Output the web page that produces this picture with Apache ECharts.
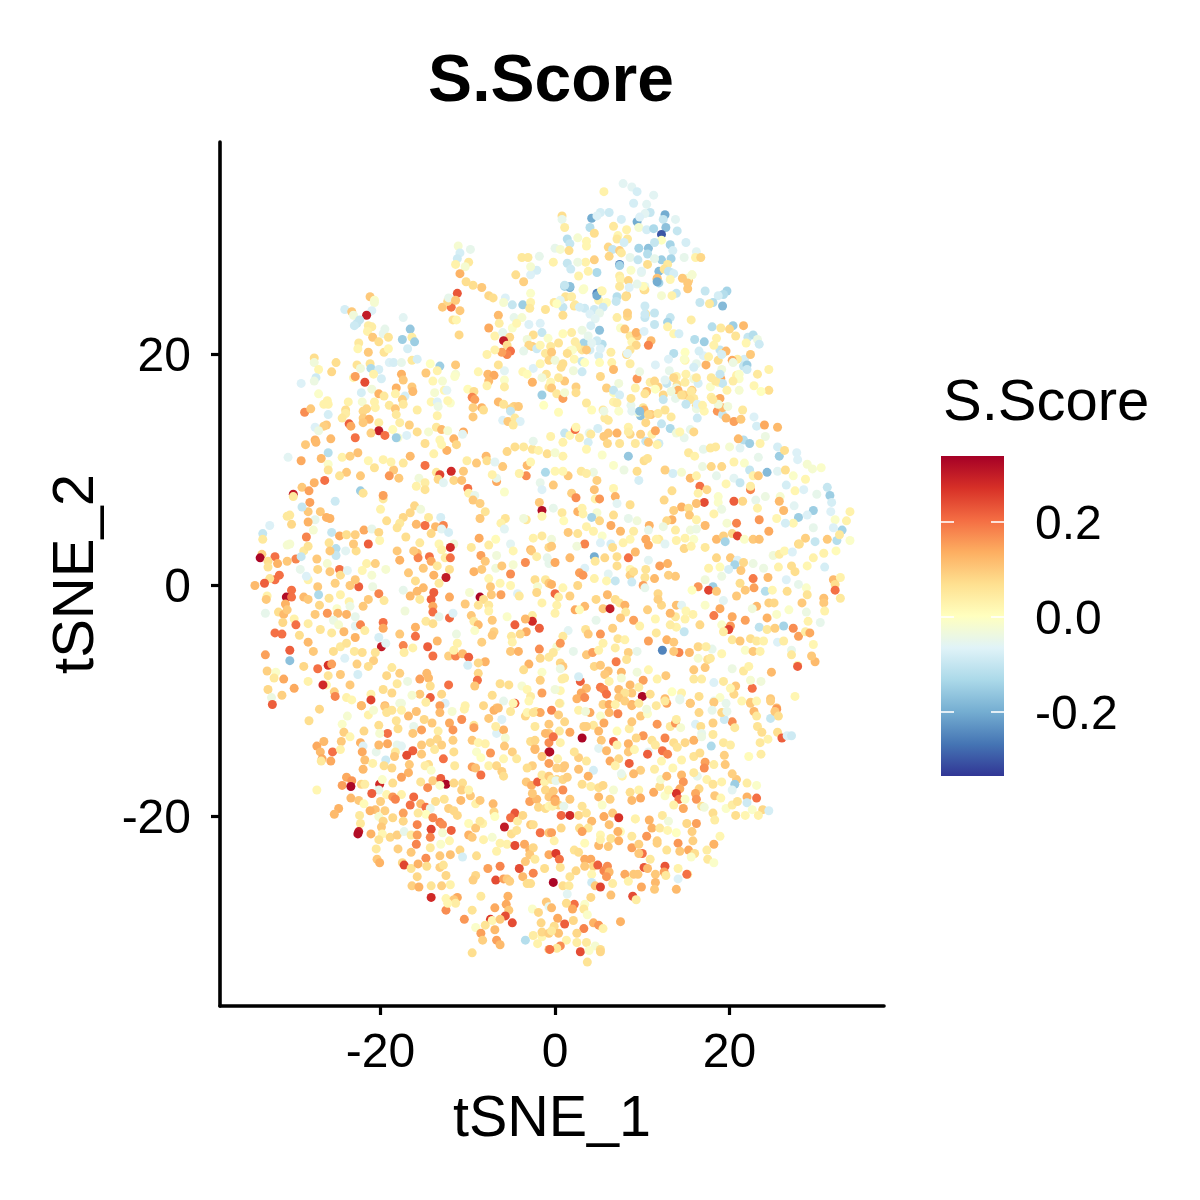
<!DOCTYPE html>
<html><head><meta charset="utf-8">
<style>html,body{margin:0;padding:0;background:#fff}#c{width:1200px;height:1200px}</style>
<script src="https://cdn.jsdelivr.net/npm/echarts@6/dist/echarts.min.js"></script>
</head><body><div id="c"></div>
<script>
// each cell: [tSNE_1, tSNE_2, S.Score]
const cellsUpperLeft = [
[-11.1,29.4,-.02],[-9.7,29.1,-.05],[-10.9,28.8,-.08],[-11.2,28.3,-.09],[-9.9,28,.05],[-11.4,27.8,.03],[-10.3,27.6,-.02],[-10.9,27,.13],[-10.2,26.3,.07],[-9.4,26,.07],[-8.4,25.8,.1],[-7.6,25.1,.08],[-7.1,24.9,.07],[-11.2,25.3,.23],[-11.9,24.1,.2],[-12.9,24.1,.1],[-12.3,24.6,.08],[-12.2,24.9,-.05],[-11.4,24.7,.1],[-10.9,23.8,.1],[-11.7,23,.06],[-11.3,23,.02],[-11,21.7,.08],
[-3.8,28.4,.05],[-3.1,28.4,.05],[-1.8,28.5,-.05],[-2.1,27.3,-.08],[-2.8,26.9,-.07],[-2.8,27.6,-.02],[-4.5,26.9,.07],[-3.6,26.3,.09],
[-21.2,25,.1],[-20.7,24.7,-.01],[-20.7,24.5,-.02],[-24.1,23.9,-.08],[-23.3,23.7,.1],[-23.1,23.4,-.03],[-21,23.8,-.07],[-21.6,23.4,.3],[-22.4,23,-.1],[-22.7,22.7,-.1],[-23,22.5,-.09],[-21.4,22.5,.04],[-21,22.4,.04],[-21.5,22,.03],[-17.4,23.2,-.06],[-16.6,22.2,-.16],[-19.5,22.2,-.05],[-19.7,21.8,-.05],[-19.1,21.5,.06],[-20.9,21.5,.1],[-17.5,21.3,-.15],[-16.4,21.5,.04],[-16.1,21.1,-.15],[-20.2,21.1,.07],[-22.5,21,.05],[-16.9,20.5,-.08],[-22.6,20.5,.02],[-21.4,20.2,.1],[-19.6,20.2,.06],[-19.1,20.5,.02],[-27.6,19.7,.07],[-25.1,19.3,.07],[-27.6,19.3,-.03],[-27.1,18.7,.02],[-25.6,18.5,.08],[-27.4,18,-.09],[-27.6,17.7,-.04],[-29.1,17.5,-.07],[-27.1,16.6,-.01],
[-22.7,19.1,.06],[-21.2,19.2,.06],[-22.3,18.8,-.03],[-21.1,18.8,-.13],[-20.2,18.7,-.08],[-19,19.3,-.07],[-18.5,19.3,-.08],[-17.6,19.3,-.05],[-16.4,19.5,.05],[-15.8,19.6,-.08],[-14.3,19.2,0],[-13.2,19,-.15],[-11.4,19.1,.1],[-14.8,18.4,.1],[-13.5,18.6,.03],[-11.4,18.3,-.02],[-8.8,18.5,.02],[-7.7,18.3,.12],[-7,18.2,.14],[-7.6,17.7,.12],[-5.8,18.6,-.06],[-3.7,18.5,.02],[-2.5,18.8,-.07],[-1,18.3,.06],[-1.7,19.2,.02],[-23.1,18,.02],[-22.9,18.1,.15],[-21.8,17.6,.24],[-19.9,17.9,-.08],[-20.8,18.3,.03],[-17.6,18.3,.13],[-17.4,17.8,.1],[-14,17.7,.02],[-12.9,17.7,-.02],[-11.5,18.1,-.01],[-5.8,17.8,-.01],[-5.8,17.2,.04],[-7.8,17.3,.03],[-2.6,17.6,.13],[-3.2,18.3,.01],[-1.5,18,-.03],
[-22.2,16.7,-.08],[-21,17,-.03],[-20.2,16.6,.13],[-19.6,16.4,.05],[-18.2,17.1,.13],[-18.3,16.6,.03],[-16.4,17.2,.1],[-16.3,16.8,.12],[-17.2,16.4,-.08],[-17.5,16.1,.09],[-13.8,16.7,-.02],[-12.7,16.9,.02],[-12.4,16.9,-.06],[-14.2,15.9,.02],[-13.5,15.9,-.07],[-12,15.8,-.01],[-12.3,16,.02],[-13.4,15.5,-.04],[-10,17,.01],[-9.3,16.8,.07],[-9.5,16.3,.18],[-9.2,16.1,.15],[-6.5,15.9,.12],[-5.9,15.7,.06],[-4.7,15.5,.09],[-4.2,15.5,.1],[-1.5,16.5,-.15],[-1.3,15.6,0],[-.7,17.2,.06],
[-28.7,15,.17],[-28,15.3,.1],[-26.1,16,.03],[-26.5,15.7,.03],[-26,15.7,.03],[-23.7,15.9,.03],[-22.1,15.9,-.02],[-20.7,15.9,.03],[-19,15.6,.05],[-17.4,15.7,.05],[-18.3,15.3,.1],[-20.6,15.4,.03],[-21.6,15.3,.08],[-24,15.2,.07],[-24,14.9,.04],[-26,14.8,-.08],[-24.4,14.5,.05],[-22,15.1,.08],[-18.2,14.8,.05],[-15.8,15.2,.04],[-13.5,14.7,.03],[-9.4,15.4,.09],[-8.4,15.4,.13],[-8.2,15.2,.07],[-9.4,14.6,.1],[-5.1,15.3,.08],[-5.1,15.1,-.1],[-6,14.3,-.07],[-5.4,14.2,.1],[-4.6,14.5,.05],[-4,14.2,-.07],[-4.8,13.9,.05],
[-22,14.5,.09],[-21.3,14.4,.13],[-22,14.1,.1],[-23.6,14,.22],[-23.4,13.8,.14],[-27.5,13.7,-.07],[-26.2,13.9,.1],[-26.5,13.8,.09],[-27.1,13.4,-.04],[-20.2,14.1,.04],[-17.8,14.1,.04],[-18.6,13.5,.01],[-16.7,13.9,.09],[-15.8,13.3,.07],[-13.6,13.7,.05],[-13,13.5,.12],[-12.3,13.4,-.02],[-14.5,13.3,-.02],[-10.5,13.3,.14],[-10.6,13.1,-.06],[-20.2,13.4,.3],[-19.5,13,.2],[-21.1,13.2,.09],[-18,12.8,-.02],[-18.2,12.8,-.15],[-17,13,-.07],[-27.5,12.6,.13],[-25.7,12.7,.12],[-22.9,12.8,.2],[-11.6,12.7,.13],[-13.2,12.6,.02]];
const cellsUpperGap = [
[-5.7,24.9,-.07],[-5.9,24.5,-.02],[-4.9,24.3,-.1],[-3.7,24.3,-.15],[-2.8,24.5,.03],[-2.9,24,.05],[-1.1,23.9,.06],[-6.5,23.4,.12],[-6.4,22.7,.04],[-7.6,22.3,.14],[-4.7,23.2,-.05],[-3.8,23.2,-.02],[-4.9,22.3,-.01],[-4.4,22.7,.02],[-3,22.6,-.07],[-1.7,22.7,-.07],[-1.5,21.9,-.1],[-2.5,21.7,.07],[-6.9,21.6,.03],[-6,21.9,-.05],[-5.2,21.5,.08],[-5.9,21.2,.3],[-5.5,20.8,.07],[-5.1,20.3,.2],[-5.5,20,.18],[-6.1,20.2,.15],[-3.2,21.3,-.03],[-2.6,20.7,.09],[-3,20.8,.08],[-2.1,20.5,-.09],[-3.6,20.3,-.05],[-1.1,20.1,.05],[-.8,21.4,-.01],[-7.8,20,.03],[-6.5,19.1,.06],[-6.9,20.4,.03],[-.7,19.5,.08],[-1.7,20.8,.02],[-2.8,25.3,-.01]];
const cellsUpperRight = [
[7.8,34.8,-.06],[8.8,34.5,-.06],[9.4,34.1,-.08],[11.3,33.8,-.06],[5.6,34.1,.03],[9,33.1,-.08],[10.5,33,-.06],[.8,32,.07],[.8,31.7,-.05],[4.2,31.8,-.2],[5.2,32.3,-.08],[6.2,32.3,-.09],[4.8,32,-.07],[7.6,31.7,-.08],[9.4,31.5,-.2],[10.9,32.3,-.1],[10.3,32.2,-.06],[9.7,31.9,-.07],[12.6,32.1,-.2],[12.4,31.7,-.1],[13.8,31.7,-.06],[4,31,-.12],[1.1,31,.04],[6.7,31.1,.05],[4.5,30.5,.07],[9.6,31,-.02],[10.5,30.8,-.08],[11.3,30.9,-.13],[12.7,31,-.17],[14,30.7,-.1],[12.2,30.4,-.3],[12.2,29.9,0],[8.2,30.8,.03],[7.2,30.3,.02],[8.3,30,.05],[7.1,30,.05],[6.1,29.3,.08],[3.6,29.8,.02],[1.4,30,-.12],[1.7,29.6,-.1],[2.6,30.1,-.02],[3.6,29.4,.02],[0,29.2,-.05],[.6,29.1,-.02],[1.6,29,.07],[6.6,29.1,-.1],[7.4,29,.09],[7.9,29.7,-.08],[9.6,29.2,-.14],[10.7,29.2,-.17],[11.4,29.7,-.1],[13.2,29.5,-.14],[13.5,29,-.08],[15,29.7,-.08],[16.2,28.9,-.06],[14.8,28.4,-.05],[16.1,28.4,.03],[16.7,28.4,.08],
[6.2,28.5,.08],[7.6,28.8,.05],[8.6,28.4,-.05],[10.6,28.7,-.12],[9.5,28.2,-.1],[12.2,28.2,-.15],[13.3,28.3,-.14],[11.4,28.3,-.05],[12.9,27.8,.05],[10.6,27.8,.07],[4.5,28.2,.09],[3.5,28,.03],[1.4,27.9,-.1],[1.8,27.4,-.09],[-.2,28,.03],[2.6,28,-.04],[7.4,27.8,-.25],[7.4,27.7,-.14],[8.7,27.3,-.01],[4.8,27.1,-.13],[3.8,27.2,.03],[2.7,26.8,.03],[7.4,26.8,.04],[9.9,27.1,-.05],[11.9,27.2,-.18],[13.3,27.1,-.08],[15.7,26.9,-.02],[11.7,26.5,.13],[11.9,26.2,-.14],[15.3,26.4,.1],[15.2,26.6,-.02],[15.2,25.7,.1],[7.5,26.5,.03],[8.4,26.4,.08],[7.4,25.9,.05],
[1.1,25.9,-.14],[1.7,25.8,-.2],[3.2,25.6,-.01],[4.8,25.3,-.25],[5.3,25.5,.03],[7.1,25,-.12],[8.2,25.1,.08],[10.3,25.9,-.05],[10.2,25.6,.08],[12.2,25.1,-.02],[13.9,25.3,-.1],[13.4,25.1,.03],[17.2,25.5,-.1],[19.7,25.5,-.14],[19.3,25.2,-.12],[18.7,25.1,-.08],[18.1,24.5,-.12],[16.6,24.5,-.1],[19.2,24.2,-.18],[17.7,24.4,.05],[5,24.7,.03],[2.2,24.2,.06],[3.4,24,-.09],[.9,24.1,-.1],[-.1,24.5,.05],[4.5,23.9,-.09],[4,23.5,-.07],[7.1,23.2,.04],[8.3,23.3,.08],[10.4,23.5,.06],[10.3,23.2,-.1],[13.2,23.2,-.1],[12.9,22.8,-.14],[11.4,22.6,-.1],[12.9,22.4,.03],[15.6,23,.04],[18,22.4,-.12],[19,22.3,.05],[20.4,22.5,-.15],[21.6,22.5,.12],[22.1,21.5,-.1],[20,22.2,.08],
[8.6,21.6,.05],[9.4,21.6,.1],[13.6,21.8,.02],[14.2,21.8,-.08],[16,21.3,-.12],[17.1,21.1,-.15],[18.5,21.4,.03],[22.7,21.7,-.12],[23.2,21.3,-.04],[23.4,20.9,-.09],[21.9,21,.02],[20.7,21.6,.06],[18.9,20.4,-.1],[18.2,20.8,.03],[11,21.2,.12],[10.7,20.8,.18],[3.3,21,-.14],[5.4,20.9,-.12],[4,20.4,-.08],[5,19.9,-.08],[-.5,20.7,.05],[1.7,20.3,.02],[2.2,19.6,.02],[3.1,20.4,.06],[6.5,19.3,.03],[8.2,20,.07],[8.6,19.2,.04],[13.6,20.1,-.12],[13,19.6,-.07],[14.9,19.5,.02],[16.2,19.2,-.05],[17,19.9,-.07],[21.7,19.6,-.08],[22.4,20,.1],[19.2,20.1,.03],[20.9,19.6,.04],[21.6,19,-.1],[20.3,19.5,.14],
[13.1,18.6,-.05],[13.9,18.1,.03],[15,18.3,.03],[15.9,17.9,-.03],[19,17.9,.14],[18.7,17.6,.03],[17.9,18,.05],[20.8,18.2,.03],[19.2,17.5,-.1],[21.1,17.9,-.01],[24.5,16.9,.07],[22.8,17.3,.02],[23.6,16.8,.0],[1.1,17.7,.1],[-.5,17.6,.02],[5.2,18.1,.08],[6.7,16.7,.01],[10.5,16.8,.12],[12.8,17.5,-.1],[11.8,17.2,.09],[10.9,17.6,.04],[14,17.4,.07],[13.9,17.1,-.04],[12.4,16.5,.08],[14.1,16.9,.13],[15.7,16.9,.09],[14.8,16.5,.09],[15.6,16.8,.05],[15.9,16.2,.05],[16.2,15.6,.07],[16.7,15.6,-.02],[18.9,16.2,.14],[18.6,15.1,.16],[19.2,14.8,-.1],[21.5,15.2,.05],[16.2,15.3,-.04],[17.1,15.1,.02],[13.3,14.6,.05],[11,14.8,.1],[10.1,15.4,.06],[10.2,15.2,.13],[12.6,15.2,.06],[8.7,15.6,-.05],[9.8,14.7,-.17],[11.8,14.9,.05],[12.2,14,-.1],[13.2,13.6,-.13],[13.9,13.2,-.03],[10.4,14.1,.08],[8.4,13.7,.03],[6.1,14.3,.05],[9.5,15,-.03],[15.5,13.5,-.05],[16.3,14.5,-.09],[19.6,14.5,.12],[20.5,14.2,.15],[21.3,14.4,.1],[22.8,14.6,-.07],[23.1,13.8,-.08],[24,13.9,.14],[25.5,13.7,.12],
[24.1,12.9,-.04],[21.6,12.6,-.12],[21,12.7,.12],[8.6,13.1,.08],[5.6,12.9,.1],[6,12.3,.08],[7.4,12.3,.06],[10.4,12.5,-.1],[11.1,13.1,.03],[11.9,12.3,-.09],[14.8,12.8,-.05],[14.3,13.3,.02],[15.9,13.3,.08],[1.1,13.2,-.1],[1.7,13,.02],[2.8,12.8,.05],[3.9,13.2,-.05],[4.9,13.6,-.08],[-.5,12.9,.03]];
const cellsUpperCentre = [
[1.7,25.9,-.17],[1.1,26,-.1],[3.3,25.7,-.01],[4.8,25.1,-.2],[5.4,25.5,.02],[1.2,25,.06],[1.9,25,.04],[.6,24.7,-.06],[.2,24.4,0],[2.3,24.3,.05],[2.8,24.1,-.08],[7,24.6,-.1],[5.9,24.5,.01],[8.1,25,.07],[10.3,25.6,.07],[10.1,25.9,.01],[9.4,26.1,-.05],[8.5,25.8,-.07],[5.5,24.1,-.09],[5.1,23.6,-.05],[4.6,23.1,-.06],[4.1,22.5,-.08],[.9,23.4,.07],[8.3,23.6,.09],[10.3,24.2,-.09],[10.3,23.5,-.09],[11.4,23.6,-.1],[5.1,22.1,-.17],[3.1,22.1,-.04],[1.9,21.9,.04],[.9,21.8,.01],[7.5,22.3,-.01],[8,22.2,.1],[9.3,21.9,.13],[10.2,22,-.07],[3.8,21.6,-.05],[4.8,21.2,-.09],[.4,21,.06],[2.3,21.1,.04],[2.5,20.7,.04],[4.2,21,-.06],[3.6,20.4,.1],[2,20.4,-.01],[1.4,20.1,.07],[5.2,20.5,-.07],[6.4,20.2,.04],[8.8,21.1,.02],[9.3,20.8,.08],[8.6,20.4,.06],[8.3,20.1,-.06],[-.4,20.2,.1],[0,19.5,-.03],[.9,19.2,.07],[.7,18.9,.07],[3.1,19.4,-.1],[3.4,19.3,0],[5.1,19.3,.01],[2.1,18.6,-.03],[3.1,18.5,-.09],[6.7,18.7,.12],[.4,18,.05],[-.4,17.1,.1],[2.4,17.2,.09],[2.4,16.7,.07],[5.9,17.1,.09],[7.3,17.5,-.03],[.2,16.6,.05],[.9,16.2,.15],[1.1,16.7,-.02],[6.7,16.9,-.1],[7.4,16.5,-.08],[8.7,16.2,.06],[9.2,17.1,.03],[3.6,15.8,.05],[4.2,15.2,.01],[6.7,15.9,.03],[7.1,15.8,.04],[.4,15,.01],[5.5,15.2,.05],[5.7,14.5,.05],[5.6,15.1,-.04],[7.3,15.1,-.01],[8.8,15.1,-.06],[9.7,15.1,-.17],[10.7,14.8,.08],[2.3,13.5,.2],[2.4,13.7,.02],[4.1,13.1,.05],[6.1,13.2,.1],[7.1,13.2,.13],[8.4,13.3,.04],[9.8,13.1,.09],[11.5,13.4,.14],
[9.4,17.9,.16],[9.7,18.5,-.04],[11.4,17.7,.08],[11.5,19.1,-.07],[12.6,17.8,-.06],[13.6,18,.08],[14.9,17.6,.04],[10.3,16.6,.06],[11.5,17,0],[13.3,16.8,-.03],[12.4,16.1,-.1],[13.8,16.2,-.05],[14.5,16.5,.07],[15.5,16.1,.06],[15,15.7,-.1],[16.3,15.7,-.07],[16.9,15.6,.03],[19.2,15.4,.12],[18.7,15.7,-.03],[19.8,15.5,-.03],[17.9,16.3,.04],[18.1,16.1,.05],[16.4,17.5,-.08],[17.8,17.2,-.01],[16.2,18,.05],[18.4,17.7,.05],[19.1,18.7,-.03],[18.9,18.3,-.1],[17.3,19.1,.13],[15.9,18.9,-.08],[17.6,19.8,.03],[18.7,19.5,.07],[16.5,20.3,-.08],[14.9,20.2,0],[14.8,19.6,-.01],[22,19.1,-.15],[23.2,18.3,.05],[24.5,18.7,.03],[22,18.7,-.09],[20.4,19.3,-.04],[19.6,20.3,.12],[19.1,20,-.08],[20.4,17.7,.04],[19.7,16.9,.03],[21.1,16.9,-.02],[21.1,18.3,-.01],[11.7,26.6,.11],[11.7,26.3,-.2],[12.5,27.4,.06],[13,27.2,-.1],[13.6,27,-.08],[14.6,26.6,.1],[15.2,26.2,.1],[15.7,26.9,-.02],[13.2,26.5,.02],[9.9,27.2,-.06]];
const cellsMiddleLeft = [
[-30.6,11.1,-.06],[-29.1,10.8,.14],[-28.6,12.2,.1],[-27.4,12.4,.12],[-26,11.5,-.12],[-26.8,11,.12],[-26,10.5,-.01],[-26,10,.06],[-24.4,11.1,.03],[-23.5,11.2,.09],[-22.6,11.5,.11],[-21.4,10.8,.02],[-20.7,10.2,.06],[-22.3,9.5,.1],[-23.9,9.8,.1],[-24.7,9.5,.06],[-27.6,8.9,.13],[-26.4,9.1,.2],[-29,8.5,.1],[-28.2,8.2,.15],[-28.1,7.2,.15],[-30,7.9,.3],[-30,7.7,.05],[-28.3,6.4,.1],[-29,6.8,-.1],[-25.2,7.3,-.09],[-22.3,8.2,-.15],[-22,8,.06],[-19.7,7.5,.05],[-19.7,7.8,.15],[-20,6.6,.03],[-27.5,5.7,-.05],[-26.9,6.4,.1],[-26.2,5.9,.13],[-25.8,5.8,.13],[-30.4,6.1,.05],[-30.7,6,.05],[-30.2,5.3,.08],[-28.3,5.5,.13],[-32.7,5.2,-.07],[-33.5,4.5,-.1],[-33.5,4,.05],[-30.7,3.5,-.02],[-30.4,3.6,-.02],[-27.7,4.8,-.02],[-25.6,4.6,-.1],[-28.5,4.2,.18],[-24.7,4.3,.14],[-23.9,4.4,.07],[-22.9,4.4,.09],[-21.9,4.8,.14],[-21,4.9,-.05],[-20.2,4.6,.08],[-20.1,3.9,.02],[-21.4,3.6,.22],[-22.8,3,.07],[-23.1,3.6,.1],[-25.9,3.7,.06],[-25.1,3.2,-.12],[-25.1,2.6,-.1],[-24,3,-.06],[-28.8,3,.05],[-28.3,3.4,.06],[-25.8,3,.1],[-27.3,2.3,.1],[-33.6,2.7,.09],[-33.8,2.4,.33],[-32.1,2.5,.2],[-32.9,2.1,.07],[-31.8,1.9,.13],[-30.7,2.1,.1],[-29.7,2.3,.18],[-29.1,2.5,-.1],[-32.9,1.6,.06],[-29.2,1.4,-.05],[-27.2,1.4,.08],[-26.1,1.9,-.02],[-24.7,1.4,.2],[-25.8,1.2,.1],[-24.6,.9,.07],[-23.8,1.3,-.06],[-21.6,1.9,.03],[-20.6,1.9,.09],[-22.1,1.3,.02],[-19.4,1.4,-.02],[-21,.9,-.02],[-28.3,.5,.03],[-28.5,.8,-.07],[-31.6,.9,.2],[-32.1,.5,.2],[-32.7,.6,.06],[-34.4,0,.12],[-33.3,.2,.22],[-30.2,-.4,.2],[-27.2,-.1,.1],[-22.5,-.1,.22],[-20.9,-.1,-.04],[-23.5,0,.1],[-25.2,.2,.09],[-22.9,.5,.1],[-33,-.9,.03],[-33.1,-1.2,.1],[-30.8,-1,.32],[-27.1,-.8,-.13],[-28.8,-1,.12],[-28.3,-1.2,.1],[-30.2,-1,.2],[-24.6,-.8,.03],[-20.2,-.7,.18],[-23.6,-1.4,.03],[-25.9,-1.1,.06],[-19.6,-1.3,.05],[-21.4,-1.2,.1],[-22,-1.8,.1],[-30.9,-1.6,.13],[-27,-1.7,.08],[-25,-2,-.01],[-23.5,-1.8,-.04],[-33.2,-2.4,-.05],[-31.7,-2.3,.07],[-31.1,-2.5,.12],[-30.7,-2.1,.1],[-29.9,-2.9,.03],[-29.7,-3.4,.2],[-27.5,-2.5,.1],[-26.1,-2.4,.16],[-24.9,-2.4,.12],[-23.9,-2.5,.13],[-22.9,-2.7,-.05],[-25.4,-3,-.04],[-28.3,-3.3,.04],[-31.2,-3.2,.08],[-26.9,-3.8,.06],[-24.8,-3.4,-.02],[-22.9,-3.5,-.06],[-22.3,-3.4,.18],[-21.8,-3.9,.04],[-32.1,-4.1,.2],[-31.3,-4.2,.2],[-29.3,-4.3,.07],[-25.6,-4.1,.05],[-24.2,-4,.12],[-19.7,-3.2,.2],[-19.7,-3.7,.14],[-28.3,-4.9,.12],[-22.9,-4.5,.13],[-24.6,-5.3,.05],[-23.9,-5,.06],[-20.2,-4.5,-.08],[-19.9,-5.3,.3],[-19.4,-5,-.06],[-30.4,-5.6,.22],[-33.2,-6,.15],[-27.7,-5.7,.1],[-25.4,-5.7,.07],[-23,-5.7,.05],[-22.1,-5.8,.07],[-20.6,-5.8,.06],[-30.4,-6.5,-.17],[-24.1,-6.3,-.07],[-28.8,-7,.08],[-27.2,-7.2,.2],[-26,-6.9,.27],[-25.6,-6.8,.15],[-22.7,-6.8,.09],[-20.8,-6.5,.09],[-21.4,-7,.07],[-33,-7.4,.09],[-32,-7.5,-.01],[-31.1,-8.1,.14],[-28.3,-8.3,.03],[-32.2,-8,.05],[-24.6,-7.7,.1],[-26,-7.8,.06],[-22.6,-7.7,-.08],[-18.7,-7.1,.05],[-19.3,-7.8,.08],[-17.8,-7.6,.09],[-26.2,-8.6,.02],[-26.6,-8.6,.28],[-29.9,-8.9,.14],[-32.9,-9,.08],[-31.3,-9.5,.09],[-32.5,-9.7,-.04],[-32.4,-10.3,.22],[-23.5,-8.6,.1],[-25.3,-9.2,.09],[-25.2,-9.6,.18],[-23.9,-9.7,.03],[-23.3,-9.9,.02],[-21.1,-9.4,.03],[-21.1,-9.9,.25],[-19.7,-9,.07],[-18.1,-8.5,.05],[-16.9,-8.3,-.04],[-15.5,-8.1,.15],[-14.7,-7.6,.12],[-14.5,-8,.12],[-12.2,-8.6,.2],[-14.3,-8.7,.07],[-15.5,-9.4,.1],[-16.4,-9.5,-.02],[-14.3,-9.7,.22],[-13,-9.4,.08],[-12.6,-10.2,-.07],[-17.8,-10.2,-.03],[-18.7,-9.3,.08],[-22.2,-10.4,.13],[-19.5,-10.4,.13],[-27,-10.7,.08],
[-7.9,11.2,.12],[-5.5,11.6,.08],[-4.6,12,.07],[-3.6,12,.05],[-2.6,11.8,.06],[-1.9,11.7,.03],[-.9,11.4,.07],[-2.5,12.5,-.05],[-7.8,10.8,.07],[-6.9,10.7,-.06],[-6,10.3,.1],[-9,10.6,.1],[-10.1,10.8,.04],[-3.2,10.4,.12],[-2.8,10.7,.02],[-1.1,9.8,-.13],[-3.3,9.5,.17],[-4.1,9.7,.03],[-1.7,8.9,-.05],[-1.5,8.3,-.07],[-1.8,7.2,.1],[-1.5,6.5,.32],[-1.5,6,.02],[-3.3,5.7,.05],[-3.6,5.8,-.03],[-5.7,5.8,.06],[-6.2,5.4,.03],[-5.8,4.9,-.06],
[-16.6,11.2,.12],[-18.5,10,.1],[-19,9.5,.16],[-17.9,9.3,.1],[-17.4,10.6,.05],[-19.7,10.9,.03],[-18.8,10.7,.03],[-14.9,10.4,.2],[-13.9,11.4,.03],[-12.4,11.7,.13],[-14.9,12.3,.07],[-13,12.2,.02],[-11.3,12.2,.08],[-10.5,9.9,.1],[-11.9,9.9,.28],[-13.6,9.8,.05],[-13.2,9.6,.25],[-13.4,9.2,.08],[-12.8,8.9,-.06],[-11.6,9.1,.08],[-10.7,9.1,.11],[-15.6,9.3,-.03],[-15.9,8.6,.03],[-14.9,8.9,.04],[-14.9,8.3,.06],[-10,8.4,.2],[-9.9,8,.03],[-9.2,7.8,-.05],[-9.4,7.4,.1],[-8.6,7.1,.09],[-8,6.4,.06],[-8.6,5.8,.1],[-5.8,8.1,-.01],[-6.7,9,.14],[-6.7,9.3,-.05],[-7.2,9.6,.03],
[-16.1,6.9,.08],[-16.6,6.3,.08],[-17.4,5.9,.08],[-15.4,6.6,-.03],[-19.3,5.6,.07],[-17.8,5.4,.05],[-18.1,5,.06],[-17.1,4.2,.07],[-15.9,5.3,.12],[-14.9,5.2,.2],[-14.5,5.9,.05],[-13.1,5.9,-.08],[-13.7,5.1,.12],[-12.8,5.2,.18],[-13,4.9,-.06],[-14.2,4.5,.08],[-12.2,4.6,-.08],[-15.5,3.7,.05],[-13.3,3.6,.02],[-11.6,3.6,-.03],[-12,3.3,.28],[-13,3.1,.03],[-18.1,3,.1],[-17.8,2.2,.13],[-15.8,2.8,.12],[-15.7,2.4,.18],[-14.4,2.5,.2],[-14.2,2.1,.14],[-12.6,2.4,.04],[-12,2.4,.2],[-16.2,3,.1],[-15.1,1.5,.1],[-16.8,1.1,.1],[-13.9,.9,.13],[-16,.4,.07],[-13.5,1.7,.05],[-12.1,1.4,.07],[-12.5,.7,.3],[-13.3,.2,.05],[-13.9,-.6,.22],[-14.2,-1.2,.22],[-15.1,-.2,.12],[-15.8,-.5,.12],[-15.5,-1.2,.05],[-16.6,-.9,.12],[-17.4,-.4,-.05],[-14,-1.8,.14],[-14,-2.3,.2],[-12.1,-1,.14],[-17.2,-2.2,-.03],[-13.3,-2.7,-.05],[-12.1,-2.8,.21],[-11.7,-2.4,-.07],[-14.8,-3.1,.05],[-14,-3.3,.07],[-16,-3.6,.13],[-17.8,-4.2,.1],[-16,-4.4,.2],[-11.3,-4.2,-.04],[-13.5,-4.8,.12],[-11.2,-5,.03],[-17.4,-5.2,.18],[-16.3,-5.4,.03],[-17.3,-5.8,.04],[-14.6,-5.3,.22],[-14,-6.1,.2],[-12.2,-6.1,.09],[-11.4,-6.1,.18],[-10.6,-5.9,.12],[-9.9,-6.2,.22],[-11.6,-5.6,.03],[-10,-6.9,-.08],
[-8.7,4.1,.14],[-9.6,3.3,.05],[-7.6,3.5,.04],[-6.8,4,.01],[-5.1,3.6,-.06],[-4.8,3,.02],[-6.7,2.6,-.03],[-8.5,2.6,.15],[-8,2.1,.1],[-9.3,1.2,.13],[-8.4,1.4,.1],[-6.8,1.5,-.03],[-6.1,1.7,.1],[-4.8,1.8,-.02],[-5.1,1,.17],[-3.4,2,.17],[-2.8,3.1,.12],[-2.7,3,.1],[-2.1,2.5,.04],[-.9,2.4,-.05],[-.7,1.9,-.05],[-2.5,4.1,.03],[-1.5,4.3,.05],[-.7,3.3,.08],[-2.3,.5,.07],[-2,-.1,-.02],[-1.1,.5,.05],[-.7,.2,.1],[-2.1,-.6,.08],[-1.5,-1.5,.03],[-7.6,.6,.02],[-6.3,.2,.02],[-5.1,0,.02],[-7.4,-.1,.1],[-8.6,-1,.33],[-7.3,-.8,.1],[-8.2,-1.2,.07],[-6.2,-.8,.15],[-4.3,-.7,-.07],[-4.1,-.9,.05],[-9.8,-.6,-.02],[-10.3,-1.6,.1],[-8.8,-1.7,.06],[-7.6,-1.7,.05],[-7.6,-2.2,.03],[-5.5,-2.7,-.01],[-4.6,-3.4,.22],[-2.6,-2.6,.04],[-2.6,-3.1,.28],[-3.4,-2.9,.12],[-1.8,-3.7,.22],[-9.6,-2.6,.1],[-9.3,-3.1,.05],[-8.8,-3.4,.12],[-7.2,-3,.1],[-9.2,-3.9,-.01],[-7,-4,.09],[-7.2,-4.3,.1],[-8.4,-4.9,.09],[-3.3,-4,.14],[-5,-4.4,.05],[-4,-4.2,.08],[-4.9,-4.9,.03],[-5.1,-5.7,.1],[-4.2,-5.7,.13],[-1.8,-5.5,.17],[-1.7,-6.3,.08],[-.7,-6.2,.05],[-3,-6.8,.13],[-3.6,-7.3,.07],[-1.5,-7.5,-.01],[-1.7,-8.2,.09],[-8,-6.6,.13],[-8.8,-6.7,.08],[-8.8,-7.6,.08],[-8.9,-8.2,.2],[-9.2,-8.7,.1],[-6.3,-8.5,.07],[-5.3,-8.6,.07],[-3.8,-8.7,-.02],[-1.5,-9.3,.15],[-3.2,-9,.02],[-2.8,-9.6,.04],[-7.2,-9.5,.07],[-5.9,-10,-.05],[-4.6,-10.2,.22],[-13.2,-10.4,.15],[-10.3,-10.4,.03],[-6.7,-10.6,.1]];
const cellsMiddleRight = [
[.9,12.4,.03],[3.8,12.4,-.08],[3.6,11.8,.02],[5.4,11.3,-.01],[8.4,11.2,-.16],[9.2,12.3,.05],[10.7,12.4,.1],[11.7,12.2,.03],[10.2,10.8,.07],[10.6,11,.06],[6.7,10.4,-.01],[7.9,10,-.04],[9.4,9.9,.07],[9.6,9.1,-.08],[3,9.9,.05],[4.4,9.8,-.04],[3.6,9.7,.04],[1.5,9.5,.1],[.9,11.2,.03],[0,11.5,-.02],[.9,9.9,.02],[0,9.9,.02],[-.2,8.7,.1],[4.8,9.1,.09],[4.5,8.3,.11],[6.7,8.4,.02],[6.9,7.7,.13],[1.9,8,.09],[2.4,7.6,.17],[4.6,7.5,.03],[5.1,7.5,.16],[7.1,7.1,-.06],[8.6,7,.07],[-.2,6.7,-.05],[.8,6.3,.05],[2.6,6.4,.13],[3.1,6.7,.03],[4.8,6.3,-.02],[4.2,5.9,-.14],[3.2,6.2,.03],[1,5.6,.01],[5.1,5.6,.08],[6.7,6.1,.07],[6.4,5.2,.14],[8.4,5.8,-.05],[9.4,5.6,-.03],[10.8,5.2,.13],[10.7,4.8,-.05],[1.5,4.6,.1],[2.6,4.5,.06],[3.6,5.1,.03],[4.4,4.7,.03],[5.4,4.3,-.01],[7.5,4.7,.12],[9,4.7,.04],[8.6,4,.02],[10.4,4,.14],[11.9,4,.05],[12.6,3.6,-.06],[10.7,3.5,.14],[3.4,3.6,.18],[5.2,3.7,-.07],[6.4,3.6,-.08],[6.6,3.3,.07],[2.5,3.4,-.03],[-.4,4,-.03],[-.4,3.4,.1],[7.8,3.7,.03],[9.2,2.9,.12],[4.5,2.5,-.2],[8.4,2.4,.2],[5.7,2.4,.08],[7.1,2.5,.07],[1.7,2.4,.12],[10.7,2.2,-.06],[0,2,.14],[3.4,1.5,-.07],[4.6,2.1,.05],[7.1,1.7,.07],[8.6,1.4,.02],[10.4,1.4,.06],[12,1.7,.15],[12.9,1.9,.13],[2.8,1.1,.15],[3.2,.9,.16],[4.5,.6,.03],[6.1,1,-.06],[6.9,.4,-.1],[5.9,.4,.02],[8.6,.9,.09],[9,1.2,.07],[8.8,.3,-.09],[10.3,.7,.06],[11.4,.6,.12],[10.1,0,.15],[10.3,-.2,-.05],[13,.9,.09],[13.8,.8,.1],[-.4,.1,.13],[.9,-.2,.02],[2.6,0,.08],[0,-.7,.21],[1.7,-.9,.09],[.2,-1.7,.03],[.4,-1,.04],
[3.4,-1.8,.12],[4.7,-1.2,.08],[6,-.8,.12],[5.5,-2,.1],[6.9,-1.2,.07],[6.3,-2,.3],[7.4,-1.5,.06],[8,-1.7,.13],[8.1,-2.3,.05],[7.5,-2.8,.1],[9,-3,.15],[9.7,-3.5,.03],[2.3,-2.1,.14],[2.8,-2.1,.01],[0,-2.4,.03],[4.7,-3,-.05],[3.5,-3.8,.06],[3.8,-4.2,.1],[1.5,-3.9,-.06],[.9,-4.4,.05],[5.2,-4.2,.16],[6.6,-3.7,.09],[7.2,-4.6,.06],[8,-4.7,.03],[5.5,-5,.03],[.2,-5.3,-.02],[.6,-5,.16],[-.2,-5.8,.05],[2.1,-5.7,-.05],[3.6,-6,.1],[4.3,-5.8,.15],[5,-5.6,.03],[6.9,-5.4,.04],[8.4,-5.8,.09],[8.2,-6.4,.06],[7,-6.6,.19],[9.4,-5.7,-.05],[.6,-6.7,.08],[.9,-7,.1],[4.5,-7,.08],[5.2,-6.9,.1],[7.6,-7.5,.12],[6.1,-7.4,.11],[5.7,-7.7,.1],[9.4,-7.5,-.03],[10.7,-7.3,.02],[.6,-7.2,-.04],[1.1,-8,.04],[.8,-8.1,.04],[2.9,-8.3,.22],[2.7,-7.9,-.08],[3.6,-8.9,.12],[3,-9.3,.14],[2.5,-9.8,.13],[3.4,-9.7,.17],[.6,-9.1,.02],[0,-9,-.03],[.6,-10.2,-.02],[5.2,-8.8,.19],[5.6,-9,.18],[5.9,-9.4,.2],[6.2,-8.3,.03],[7.3,-9,.12],[8.6,-8.6,.12],[10.1,-8.2,.15],[11.7,-8.1,.03],[12.7,-7.8,.1],[7.6,-8,-.02],[9.6,-8.8,.04],[10,-9.6,.33],[8.8,-9.3,.1],[8,-9.3,.06],[8.8,-10.3,.13],[7.3,-9.7,.1],[10.9,-9.4,.07],[12.6,-9.8,.12],[13.4,-9.2,0],[14.5,-9.3,.03],[14.3,-9.8,-.05],[12.8,-10.2,.15],[16.5,-9.6,.07],[15.5,-10.2,.1],[18.2,-10,-.05],[18.9,-9.7,-.01],[20.5,-9.4,.08],[20.7,-8.7,.1],[20.1,-8.9,.02],[22.6,-8.9,.2],[23.6,-8.3,-.03],[19.3,-8.3,.05],[18.2,-8.4,-.07],[16.8,-8.1,.04],[15.9,-8.1,.05],[15.9,-7.3,.1],[17.2,-7.1,.1],[17.5,-6.4,.07],[17.8,-6.3,.05],[20.3,-7.2,-.04],[21.6,-7.4,.05],[22.2,-7,.03],[24.8,-7.5,.12],[22.4,-8.2,-.02],[24.7,-9.8,.1],[22.4,-10.1,.09],[25.4,-10.6,.12],[27.5,-9.6,.02],[21.4,-10,.02],[16.4,-6.3,-.02],[15.4,-5.8,.12],[14.2,-5.8,.18],[13.6,-5.7,.1],[12.3,-5.6,-.25],[12.8,-4.7,.13],[13.6,-4.9,.1],[10.7,-4.8,.15],[11.6,-4.1,.05],[14.8,-4,-.1],[13.9,-3.6,.03],[13.2,-3.4,.04],[14.9,-2.9,.03],[13.8,-2.7,.05],[13.2,-2.4,.12],[13.9,-1.7,.11],[14.5,-1.7,-.06],[15,-2.2,.02],[15.8,-2.5,.03],[16.6,-3.4,.08],[12.2,-1.7,.08],[11.8,-.7,.08],[11.8,-1.2,.09],[10.6,-2.1,.09],[11.5,-2.9,.02],[16.4,-5.3,.08],[18,-5.5,-.05],[19.1,-5.9,.02],[17.3,-5.3,.04],[21.8,-5.6,-.01],[22.7,-5.7,.1],[23.5,-5.7,.03],[27.1,-5.6,-.05],[27.1,-6,.05],[27.8,-6.9,.02],[27.8,-7,.22],[29.8,-6.6,.12],[29.4,-6.1,.1],
[15.3,11.5,.05],[16,11.2,.03],[17,11.8,-.05],[17.8,11.9,.05],[18.4,12,.05],[20,12,-.02],[21.2,11.9,-.06],[22.3,12.3,-.15],[23.5,12.3,.03],[25.5,12,-.08],[25.7,11.2,-.15],[26.3,11.7,.07],[27.7,11.5,-.07],[27.8,10.9,-.07],[23.3,11.1,-.05],[21.7,10.6,-.01],[20.5,10.7,.03],[19.1,10.3,.08],[16.9,10.3,-.04],[17.9,10.3,.08],[22.3,10,-.1],[24.3,9.8,-.18],[25.5,9.9,-.06],[26.4,10,.07],[28.9,10.5,-.02],[29.5,10.1,-.02],[30.5,10.2,-.01],[27.3,9.5,-.01],[22.7,9.5,.03],[23.3,9.5,.1],[13.5,9.7,-.08],[14.5,9.8,-.02],[12.6,10,.09],[15.5,9.3,.12],[16.2,9.5,.03],[16.6,8.6,.2],[17.4,8.3,.08],[16.4,8,.03],[18.5,9.5,-.05],[20.5,9.3,-.06],[21.2,8.9,-.1],[19.6,8.8,.02],[22.4,8.3,.18],[22.4,8.6,.04],[26.5,8.7,-.08],[28.7,9.2,.02],[27.5,8.2,.02],[28.5,8.3,-.07],[31.2,8.5,-.1],[31.5,7.8,-.15],[30,7.9,-.05],[31.7,7.2,-.08],[24.1,7.7,-.04],[23,7.4,-.05],[25.8,7.7,-.02],[25.7,7.3,.12],[27.4,6.9,-.06],[23.2,6.7,.03],[20.5,7.3,.22],[21.5,7.3,.08],[17.1,7.2,.24],[16.2,7.1,.11],[18.7,7.7,-.01],[18.7,7.2,-.01],[19.1,6.6,-.04],[12.5,7.4,.08],[13.4,8.2,.07],[14.5,6.8,.13],[15.3,6.7,.07],[18.2,6.2,.03],[13.6,6.5,.09],[15.4,6.1,.1],[16.2,5.7,.03],[17.2,5.2,.12],[19.7,5.4,-.02],[20.8,5.4,.18],[23.4,5.7,.16],[25.4,5.8,.02],[26.2,6.5,.12],[29.6,6.5,-.15],[28.9,6.1,-.07],[27.9,5.9,-.15],[27.3,5.4,.02],[26.4,5.4,-.08],[31.6,6.4,-.07],[32.1,5.7,-.01],[33.8,6.4,.03],[33.4,5.6,.03],[31.9,5,-.07],[32.9,4.8,-.14],[29.6,5,-.05],[31.2,4,.1],[32.3,3.9,-.12],[32.6,4.4,.05],[33.8,3.9,-.01],[29.8,3.8,-.1],[28.7,4.1,.09],[27.9,3.6,.08],[32.2,3,.01],[30.8,2.8,.03],[29.6,2.4,.03],
[13.4,5.7,.13],[12.8,5.6,.08],[13.8,4.8,.04],[12.4,5.1,-.04],[11.6,4,.03],[13.9,3.9,.03],[14.9,4.1,.03],[15.9,4,-.01],[15.5,4.8,-.03],[16.2,4.9,-.04],[17.2,3.3,.05],[14.8,3.2,.08],[15.6,3.4,.03],[18.5,4,.12],[19.3,4.3,.09],[20.3,4.5,.08],[20.9,4.3,.25],[21.7,4,-.01],[22.7,4,.1],[23.4,4,.11],[24.5,4.7,.14],[19.5,3.8,-.14],[25,2.6,-.03],[25.7,2.7,.04],[26.3,3,.02],[27.2,2.9,-.07],[28,3.6,.07],[20.1,2.4,.1],[18.5,2.4,.08],[20.9,2.2,-.07],[20.6,1.8,-.14],[21.6,2,.08],[22.7,1.9,-.04],[23.9,1.5,-.04],[25.6,1.6,.03],[27.1,1.7,.07],[28.9,1.7,.02],[30.9,1.6,-.08],[17.6,1.5,.03],[18.9,1.6,.01],[19.9,1.4,-.08],[21.3,1.3,.1],[27.5,1.2,.07],[17.2,.5,-.03],[19.1,.8,-.04],[22.7,.6,.19],[24.4,.7,.12],[26.5,.5,-.07],[27.9,.1,-.05],[31.9,.5,.12],[32.7,.7,.03],[32.1,.1,.07],[16.4,-.1,.16],[18.1,-.1,-.15],[17.6,-.4,.25],[15.7,-.4,0],[18.5,-.5,.1],[21.2,.2,.07],[21.8,-.4,.1],[20.8,-.9,.1],[22.8,-.2,.15],[24.1,-.5,-.12],[24.9,-.4,.02],[26.6,-.5,.07],[28.8,-.2,-.01],[28.9,-.8,.06],[32.1,-.4,.2],[32.7,-1.1,.05],[30.8,-1.1,.11],[30.8,-1.5,.1],[19.3,-1.3,-.06],[17.2,-1.7,-.01],[18.9,-2,.14],[23.1,-1.8,.12],[22.6,-2,-.03],[24.5,-1.5,.09],[25.1,-1.5,.08],[28.3,-1.5,.1],[18.2,-2.6,.19],[20.3,-2.7,.14],[21.8,-3,.15],[24.3,-2.8,.13],[25.4,-2.5,-.01],[26.8,-2.1,-.01],[28.8,-2.3,-.04],[30.9,-2.2,.03],[30.4,-3.2,-.05],[29,-3.1,.03],[19.1,-3.4,-.01],[20.1,-3.5,.16],[19.9,-3.8,.25],[23.4,-3.6,-.11],[24.3,-3.8,.05],[25.2,-3.7,.09],[26.2,-3.5,-.14],[27.3,-3.7,.17],[27.9,-4.4,.15],[28.7,-4,.04],[29.2,-4.1,.14],[19.3,-4,.04],[20.3,-4.7,.05],[21.2,-4.8,.1],[22.4,-4.6,.07],[23.1,-4.8,.05],[23.9,-4.8,.03],[25.5,-4.9,-.07],[26.2,-4.8,.04],[29.6,-5.1,.02]];
const cellsLowerLeft = [
[-28.2,-11.7,.07],[-24.4,-12,-.01],[-23.8,-11.3,-.02],[-24.2,-12.7,.09],[-23.5,-13.1,.02],[-24.5,-13.5,.1],[-26.5,-13.5,.12],[-27.3,-13.9,.14],[-26.9,-14.4,.12],[-25.5,-14.4,.2],[-24.6,-14.2,.03],[-26.7,-15,.14],[-25.7,-15.2,.14],[-26.8,-15.2,.05],[-21.9,-12.6,.08],[-22.3,-13.6,.13],[-22,-13.9,-.07],[-22.1,-14.4,.14],[-21.8,-15.1,.11],[-20.5,-14.4,-.05],[-20.2,-13.8,.12],[-19.2,-13.7,.14],[-19.2,-12.8,.2],[-20.2,-12.1,.07],[-20.1,-12.8,-.02],[-21.4,-11.2,.03],[-20.8,-10.8,-.02],[-22.2,-10.4,.12],[-19.5,-10.5,.1],[-18.7,-10.8,.06],[-17.6,-10.2,-.03],[-19.3,-11,.06],[-17.6,-10.8,.03],[-18.2,-11.7,.06],[-18,-12.4,.07],[-16.2,-12.2,-.05],[-16.3,-12.8,.1],[-16.8,-11.3,.12],[-15.9,-10.9,.11],[-14.8,-10.1,.04],[-15.3,-12.5,.15],[-14.1,-11.9,.1],[-15,-11.6,.08],[-13.4,-12.6,.04],[-12.1,-11.9,.14],[-13.2,-11,.12],[-11.8,-10.9,-.02],[-10.7,-11.6,.17],[-10.4,-10.7,.03],[-9.3,-12.1,.06],[-9.3,-12.3,.15],[-11.7,-12.5,.16],[-12.8,-15,.2],[-14.3,-13.6,.08],[-13.5,-13.3,.08],[-13,-13.8,.09],[-13.8,-14.2,.05],[-15.3,-13.8,.1],[-15.3,-14.6,.1],[-11.7,-13.4,.09],[-11.6,-14.4,.07],[-18.1,-13.8,-.05],[-17.6,-13.9,-.06],[-16.3,-14.3,.22],[-17,-14.7,.24],[-18.3,-14.4,.05],[-18.4,-14.8,.1],[-19.4,-15.1,-.09],[-20.9,-15.4,.03],[-22,-15.9,.12],[-19.6,-15.6,.07],[-18.7,-15.8,.08],[-16.7,-15.5,.1],[-16.8,-16.2,.13],[-17.6,-16.6,.15],[-14.5,-15.5,.07],[-14.9,-15.6,.04],[-14.2,-16,-.01],[-11.5,-15.6,.05],[-9.5,-13.4,.1],[-8.8,-13.6,.02],[-8,-13.7,.03],[-9,-14.4,-.01],[-8.5,-14.9,0],[-7.4,-14.5,.16],[-6.7,-12.8,-.07],[-5.9,-12.5,.13],[-6.1,-11.6,-.07],[-6.8,-12.2,.04],[-7.6,-11.5,.1],[-7,-10.8,.13],[-6.5,-10.6,.12],[-8.2,-10.4,.08],[-5.1,-10.9,.05],[-4.8,-10.2,.02],[-3,-10,.02],[-3.4,-11.3,.08],[-3.2,-11,.02],[-2.2,-10.9,.05],[-1.7,-11,.14],[-2.3,-12.2,.05],[-5.7,-13.2,-.02],[-5.8,-13.9,.1],[-4.9,-14.4,.09],[-5.9,-15,.02],[-7.6,-15.6,.03],[-6.7,-15.6,.08],[-6.1,-16.1,.09],[-5.9,-16.5,.07],[-9.5,-15.7,.15],[-9.1,-15.8,.11],[-8.5,-16.4,.2],[-2.8,-13.5,.07],[-2.3,-14.1,.11],[-.7,-12.8,.1],[-.7,-13.6,.17],[-.7,-14.4,.3],[-2.6,-15.6,.09],
[-23.9,-16.6,.14],[-23.3,-16.9,.16],[-24.4,-17.3,.15],[-23.4,-17.4,.33],[-22.2,-17.2,.08],[-21.8,-17.2,.04],[-20.1,-17.2,.28],[-20.2,-17.7,-.05],[-21,-18,.22],[-27.3,-17.7,.02],[-19.3,-18.1,.02],[-19.8,-16.8,-.01],[-18.6,-17.1,.07],[-17.6,-18.1,.03],[-18.6,-18.3,.16],[-18.3,-18.5,.18],[-16.2,-18.3,.21],[-16.6,-19,.2],[-15.4,-17,.06],[-14,-16.9,.09],[-13.1,-16.7,.22],[-12.5,-17.2,.33],[-13.2,-17.3,-.01],[-11.6,-17.1,.08],[-14.6,-17.5,.17],[-10.6,-17.1,.07],[-10.7,-17.7,.09],[-9.7,-18.2,.1],[-9.9,-17.7,.03],[-10.8,-18.6,.12],[-23.4,-18.4,.12],[-22.5,-18.6,.1],[-21.9,-18.9,.01],[-20,-18.7,.09],[-20.6,-19.4,.11],[-21.2,-19.5,.13],[-19.5,-19.5,.09],[-17.4,-19.7,.15],[-24.8,-19.3,.13],[-25.3,-19.8,.12],[-22.4,-19.9,.05],[-15.4,-18.9,.12],[-13.7,-18.7,.07],[-12.7,-18.5,.06],[-14.8,-19.2,.2],[-14.3,-19.3,-.05],[-14.8,-19.8,0],[-12.2,-19.3,.09],[-11.6,-19.5,.08],[-11.2,-19.9,.08],[-15.7,-19.7,.05],[-14,-20.1,.18],[-9.1,-18.9,.03],[-8.6,-18.6,.1],[-7.1,-18.9,.12],[-7,-19.6,.08],[-6.9,-20,0],[-20.2,-20,-.02],[-19.7,-20.4,.08],[-18.6,-20.1,.08],[-17.4,-20.4,.08],[-22.3,-20.6,.05],[-22.5,-21.3,.3],[-22.6,-21.5,.32],[-21.1,-21.5,.13],[-19.9,-20.9,.1],[-19.8,-21.5,.02],[-18.9,-21.8,.08],[-18.1,-21.6,.09],[-17.3,-21.3,-.05],[-16.5,-21.6,.04],[-15.8,-20.7,.18],[-14.2,-21.1,.25],[-13.2,-20.5,.18],[-12.9,-20.7,.17],[-11.9,-21.2,.22],[-9.9,-20.6,.01],[-8.3,-20.6,.03],[-9.1,-21,.1],[-8.6,-20.4,.05],[-5.8,-20.9,.3],[-4.6,-19.7,.23],[-5.1,-20.1,.2],[-4.3,-20.4,.04],[-3.7,-19.9,.08],[-2.8,-20.7,.1],[-2.5,-20.7,.07],[-1.7,-21.4,.2],[-.7,-21.4,.1],[-5,-21.5,.07],[-4.4,-21.2,.06],
[-20.2,-22,.06],[-20.5,-22.8,.05],[-20.4,-23.7,.1],[-20.1,-24,.13],[-18,-22.8,.09],[-16.5,-23.1,.1],[-15.8,-21.6,.15],[-14.3,-21.8,.18],[-15.9,-22.4,.18],[-14.3,-22.7,.05],[-13.1,-22.4,-.01],[-12.1,-22.1,.02],[-12.9,-21.4,-.02],[-10.9,-22.9,.08],[-12,-23.3,.11],[-10.6,-23.5,-.08],[-9,-23.4,.07],[-9.9,-21.6,.13],[-9.5,-21.8,.1],[-8.2,-22,.03],[-7.2,-21.8,-.02],[-6.7,-23,.03],[-6.3,-22.3,.03],[-5.5,-22.4,.03],[-4.6,-22.5,.24],[-3.5,-22.4,.14],[-2.9,-22.9,.13],[-2.5,-22.7,.08],[-.7,-23.3,.14],[-2.9,-23.3,.1],[-2.3,-23.7,.05],[-17.5,-24,.08],[-17.3,-24.2,.25],[-16.5,-24.5,.06],[-14.8,-23.6,.17],[-15.7,-24.1,.13],[-14.7,-24.3,.07],[-13.2,-23.4,.1],[-13.2,-24.4,.09],[-12.8,-24.2,.06],[-6.3,-24.3,.18],[-7.7,-24.5,.15],[-4.1,-24.5,.24],[-3.4,-23.9,.1],[-2.5,-24.9,.18],[-1.2,-24.5,.07],[-3.7,-25.2,.12],[-2.8,-25.8,.07],[-3.2,-25.8,.07],[-9.1,-25.1,.08],[-9.4,-25.5,.09],[-6.8,-25.5,.24],[-5.9,-25.4,.15],[-5.5,-25.4,.1],[-5.2,-25.6,.09],[-12.5,-25.1,.08],[-16.4,-26,.09],[-15.6,-26.1,.13],[-15.8,-25.2,.08],[-14.2,-26,.06],[-13,-26,.09],[-12,-25.9,.03],[-14.2,-27,.28],[-12.5,-27.1,.02],[-11.2,-27,.14],[-11.6,-27.2,.1],[-8.5,-26.9,.05],[-12.5,-28.1,.17],[-9.5,-28.1,.06],[-10.4,-28.9,.16],[-11.4,-27.5,.04],[-12.3,-27.5,.02],[-5.4,-26.9,.13],[-5.6,-27.6,.14],[-6.9,-27.9,.14],[-5.3,-28.1,.1],[-5.7,-28.6,.24],[-7.4,-28.9,.26],[-7.2,-29,.02],[-4.9,-29.2,.24],[-6.3,-28.9,.1],[-8,-29.4,.06],[-9.1,-29.6,-.01],[-6.9,-29.8,.12],[-8.5,-30.1,.15],[-6.7,-30.7,.15],[-6.3,-31.1,.12],[-8.3,-30.7,.09],[-9.5,-31.8,.07],[-3.4,-30.7,-.12],[-2.5,-30.3,.04],[-1.5,-30.4,.02],[-2,-31,.03],[-2.6,-28,-.01],[-1.9,-28.3,.08],[-1,-27.4,.1],[-1.6,-29.2,.08],[-1.5,-30,.08],[-.7,-27.8,-.05],[-.7,-30.1,.09],[-.7,-31.5,.1]];
const cellsLowerCentre = [
[-3.3,-17,.1],[-2.7,-17.3,.13],[-2,-17,.22],[-1.2,-17,.03],[-2.9,-18.7,.15],[-2.1,-18.5,.12],[-1.9,-19.2,.08],[-1.1,-19.3,.07],[-.7,-19.1,.02],[-2.6,-18,.1],[-1.1,-17.7,.08],[-.7,-18.3,.1],[-1.5,-16.4,.05],[-.7,-16.5,.1],[-2.5,-11,.06],[-1.1,-12.8,.12],[-.7,-12,.1],[-2.3,-13.4,.08],[-2.3,-14.2,.12],[-3.2,-15.8,.07],[-4.4,-15,.05],[-1.5,-14.8,.1],[-.7,-15.4,.15],[-.4,-16.8,.05],[.2,-16.8,.08],[.9,-15.8,.1],[2.7,-14.9,.09],[3.6,-15.2,.05],[-.2,-17.8,.1],[0,-18.5,.15],[.4,-19,.08],[1.7,-18.5,.1]];
const cellsLowerRight = [
[.5,-10.2,.05],[4,-11,.14],[2.7,-10.8,.03],[3.5,-10.9,-.03],[5.5,-10.3,.09],[6.2,-10.3,.14],[6.9,-10.3,.03],[8,-10,.09],[8.8,-10.4,.12],[7.2,-11.1,.18],[6.2,-11,.12],[5.2,-11.3,-.01],[5.6,-11.9,.14],[4.4,-12.1,.05],[3.6,-12.2,.09],[3.3,-12.2,.09],[5,-12.6,.12],[3.1,-13.2,.33],[1.7,-12.7,.14],[.5,-12.6,.05],[1.1,-11.8,.08],[-.4,-10.8,.18],[.4,-11.2,.09],[-.2,-13.1,.2],[.6,-13.6,.03],[-.6,-14.4,.32],[2.2,-14.4,.06],[5.3,-13.4,.1],[5,-14.1,-.06],[5.9,-14.3,.12],[6.7,-13.5,.22],[7.1,-13.8,.03],[7.1,-12.6,.01],[8.5,-12.4,.04],[8.8,-11.8,.1],[9.8,-11.3,.1],[10.6,-11.1,-.01],[10.5,-10.7,-.03],[9.6,-10.2,.05],[11.6,-10.4,.05],[12.6,-10,.05],[14.3,-9.9,-.05],[15.5,-10.2,.1],[18.2,-10.1,.1],[19.6,-10.2,-.05],[22.4,-10.2,.1],[23.1,-10,.02],[24.7,-10,.09],[25.4,-10.7,.16],[22.8,-10.9,.12],[23.1,-11.3,.05],[24.7,-11.5,-.1],[25.2,-10.9,.1],[25.6,-11.3,.07],[20.3,-11.8,.17],[20.6,-12.3,.05],[19.4,-11.6,-.09],[19.1,-11,.08],[18,-10.8,-.05],[19.7,-10.9,-.05],[16.5,-11,.08],[18.1,-11.9,.09],[16.1,-12,-.07],[16.7,-12.2,.07],[11.7,-12,.16],[13.2,-12.2,.05],[13.8,-11.9,.16],[13.9,-11.6,.04],[14.4,-12.3,-.02],[10.1,-13,.16],[12.6,-13.2,.18],[11.1,-13.4,.06],[9.3,-13.2,.08],[8.4,-13.7,.13],[11.5,-13.8,.05],[13.6,-13.6,.07],[14,-14,.06],[14.9,-13.6,.08],[15.9,-13.4,.13],[16.8,-12.8,-.05],[16.8,-13.1,-.04],[18.1,-12.9,.05],[19.3,-13.6,.05],[20.1,-13.8,.04],[17.9,-13.9,-.13],[15.9,-14.8,.06],[16.6,-14.5,.07],[17.2,-15.3,.15],[17.1,-15.8,.17],[14.5,-15.1,.03],[18.2,-15.5,.04],[19.4,-14.7,.09],[19.5,-15.5,.1],[22.2,-14.8,.01],[23.6,-14.6,.04],[23.5,-13.6,.05],[24.4,-13.3,.03],[25.5,-12.7,.07],[26,-13.2,.22],[26.6,-13,-.07],[27.1,-13,-.09],[23.2,-12.2,.06],[23.7,-12.7,.07],[20.8,-16.8,.1],
[12.3,-14.3,.2],[12.9,-14.6,.18],[10.7,-14.4,-.06],[10.6,-14.6,.22],[8.4,-14.4,.1],[9.1,-14.2,.02],[8.5,-15.4,.22],[7.3,-15,.08],[6.3,-15.2,.14],[6.9,-15.6,.03],[9.8,-16,.09],[9,-16.3,.12],[7.7,-16.5,.03],[7.6,-16.3,-.05],[4.4,-16,-.08],[3.8,-16.5,.13],[2.7,-15.9,.11],[1.1,-15.6,.1],[.2,-15.8,.09],[.3,-15,.03],[.1,-16.9,-.05],[.9,-16.8,.08],[1.4,-16.6,.09],[3.1,-17.2,.07],[.9,-17.7,.17],[4.1,-17.4,.04],[6.7,-17.7,-.02],[5,-17.5,.07],[5.5,-17.3,.08],[8.6,-17.9,.07],[9.6,-17.7,.03],[5,-18.3,.12],[6.3,-18.5,.09],[8.8,-18.6,.12],[9.8,-18.4,.14],[11.3,-17.9,.14],[12,-17.4,.07],[12.1,-16.8,-.02],[12.8,-16.5,.12],[11.4,-15.9,.04],[12.2,-15.2,.02],[13.5,-15.8,.02],[14.5,-16.4,.12],[14.7,-17,.16],[14.3,-17.6,.14],[13.9,-18,.27],[14.2,-18.5,.2],[12.6,-18.2,-.01],[13,-17.7,.02],[14.9,-18.5,-.01],[13.6,-19,.03],[16.3,-16.5,-.05],[15.9,-16.2,.05],[17.4,-16.8,.03],[18.1,-17.2,.06],[19.1,-17,.03],[20.3,-16.3,.09],[22,-17.1,.04],[23.1,-17.3,-.01],[20.6,-17.2,-.15],[20.3,-17.7,-.06],[16.5,-17.6,.08],[16.1,-18,.14],[16.2,-18.5,.16],[16.8,-19.1,.06],[17.1,-19.2,-.03],[18.3,-18.2,.1],[19,-18.4,.02],[19.6,-19.3,-.01],[20.3,-19,.04],[20.9,-18.7,.06],[22,-18.3,.13],[23.1,-18.4,.2],[22,-18.8,-.09],[22.6,-19.4,-.01],[21.8,-19.9,.02],[20.7,-19.9,.07],[23.8,-19.4,.08],[23.3,-19.9,.03],[24.5,-19.5,-.08],[18.1,-19.7,.07],[18.3,-20.3,.04],[12.3,-19.9,.05],[13,-20.4,-.03],[14.7,-19.3,.14],[.7,-19.9,.21],[1.7,-19.9,.28],[2.7,-19.9,.08],[1,-19.1,-.05],[3.1,-19.1,.06],[-.3,-19.1,.03],[0,-18.7,.13],[5.4,-19,-.01],[3.6,-19.7,.06],[4.2,-20.4,.12],[5.6,-20,.14],[6.6,-19.7,.1],[7.3,-20.1,.27],[9.2,-20.2,.01],[9.2,-20.2,.03],[10.8,-20.3,.13],[11.1,-21,.13],[6.2,-20.7,.11],[3.8,-21,.05],[2.8,-21,.07],[3.1,-21.3,.15],[.7,-21,.08],[-.4,-21.4,.15],[-.1,-22.1,.03],[5.2,-21.6,.02],[7.5,-21.3,.01],[6.4,-21.9,.06],[7.3,-22.1,.13],[7.2,-21.3,.13],[8.8,-21.7,.05],[5,-22.5,.12],[6.1,-22.6,.1],[3.4,-22.3,.01],[5.2,-22.0,.03],[10.5,-21.7,.16],[11.7,-22.1,.09],[11.7,-22.3,.09],[12,-21,.05],[12.9,-21.2,.02],[13.9,-21.4,0],[15.7,-21.3,.09],[16.2,-20.6,.15],[15.1,-20.6,.08],[18.2,-22.4,.13],[18.9,-21.7,.02],[8.8,-22.7,.15],[10,-23.2,.2],[9.6,-22.4,.09],[10.9,-23.7,.05],[9.6,-23.2,.1],[14.1,-22.3,.16],[12.8,-22.9,.06],[14.3,-23,.1],[15.3,-22.9,.14],[16,-23.2,.07],[15.6,-23.5,-.01],[17.4,-22.9,.04],[17.5,-23.7,.05],[18.2,-24,-.01],[15.8,-22.1,.09],[.1,-23.2,.26],[.5,-23.7,.2],[2.2,-22.9,.06],[2.7,-23.1,.07],[3.4,-23.7,.14],[4.1,-23.7,.14],[3.4,-24.3,.1],[.6,-24.4,.06],[1.7,-25.2,.06],[2.4,-24.7,.08],[4.4,-24.3,.08],[4.9,-24.2,.22],[5.6,-24.7,.18],[6,-24.3,.17],[6.2,-24.8,.12],[4.2,-25,.02],[5.9,-25.2,.16],[10.2,-24.4,.23],[10.6,-24.5,.12],[12.6,-24.3,.23],[12.5,-24.8,.15],[11.5,-25,.1],[12.7,-25.1,.05],[8,-25,.14],[9,-25,.1],[9.5,-25,.1],[14.1,-24.5,.03],[15.2,-25,.05],[15.1,-25,.2],[14.1,-25.4,-.07],[8.4,-25.6,.03],[6.6,-25.8,.04],[4.2,-25.7,-.09],[4.6,-26,.1],[5.2,-26.1,.25],[-.2,-25.7,.33],[.9,-26,.07],[1.6,-26,.05],[1.4,-26.7,-.06],[4.1,-27,.08],[6.4,-26.8,.11],[9.9,-26.1,.14],[11.5,-25.7,.12],[11.4,-26.3,.1],[13.9,-26.3,.12],[8.9,-26.9,.24],[9.3,-27.2,.04],[2.2,-27.6,.2],[1.3,-27.5,.07],[3.4,-27.6,-.01],[3.3,-28,.05],[3.7,-28.5,-.01],[2,-28,.14],[2.1,-29,.08],[-.4,-27.9,.12],[.3,-28.8,.14],[1.1,-29.3,.22],[4.4,-29.2,.13],[5,-29.4,.16],[5.5,-29.7,.03],[3.3,-29.7,.18],[7.5,-29.1,.13],[-.1,-29.5,.07],[.4,-30.1,.11],[-.4,-29.9,.05],[2.5,-30.1,.08],[2.5,-30.9,.04],[1.3,-30.7,.03],[.6,-31.2,.17],[2.9,-31.7,.24],[3.6,-30.9,.05],[4.6,-31.2,-.02],[3.9,-31.6,-.01],[5.2,-31.5,.07],[5.2,-31.7,.08],[3.7,-32.6,.06],[.2,-31.4,.05],[-.6,-31.5,.2]];
const xTicks = [-20, 0, 20];
const yTicks = [-20, 0, 20];
const legendTicks = [-0.2, 0.0, 0.2];
const scoreColors = ['#313695','#4575B4','#74ADD1','#ABD9E9','#E0F3F8','#FFFFBF','#FEE090','#FDAE61','#F46D43','#D73027','#A50026'];

const cells = [].concat(cellsUpperLeft, cellsUpperGap, cellsUpperRight, cellsUpperCentre, cellsMiddleLeft, cellsMiddleRight, cellsLowerLeft, cellsLowerCentre, cellsLowerRight);
const font = '"Liberation Sans", Arial, sans-serif';
const chart = echarts.init(document.getElementById('c'), null, {renderer: 'canvas'});
const lineStyle = {color: '#000', width: 3.6};
const barStops = scoreColors.map((color, i) => ({offset: i / (scoreColors.length - 1), color}));
const legendTickStyle = {color: '#fff', width: 1.6};
chart.setOption({
  animation: false,
  backgroundColor: '#fff',
  title: {text: 'S.Score', left: 546, top: 45, textAlign: 'center',
    textStyle: {fontFamily: font, fontSize: 66, fontWeight: 'bold', color: '#000'}},
  grid: [
    {left: 220, top: 142, width: 664, height: 864, containLabel: false},
    {left: 941, top: 456, width: 63, height: 320, containLabel: false}
  ],
  xAxis: [
    {type: 'value', gridIndex: 0, min: -38.4, max: 37.7, name: 'tSNE_1', nameLocation: 'middle', nameGap: 85,
     nameTextStyle: {fontFamily: font, fontSize: 57.5, color: '#000'},
     splitLine: {show: false},
     axisLine: {onZero: false, lineStyle}, axisTick: {length: 9, lineStyle: {color: '#000', width: 3.2}, customValues: xTicks},
     axisLabel: {fontFamily: font, fontSize: 48, color: '#000', margin: 24, customValues: xTicks}},
    {type: 'value', gridIndex: 1, min: 0, max: 1, show: false}
  ],
  yAxis: [
    {type: 'value', gridIndex: 0, min: -36.4, max: 38.4, name: 'tSNE_2', nameLocation: 'middle', nameGap: 114,
     nameTextStyle: {fontFamily: font, fontSize: 58, color: '#000'},
     splitLine: {show: false},
     axisLine: {onZero: false, lineStyle}, axisTick: {length: 9, lineStyle: {color: '#000', width: 3.2}, customValues: yTicks},
     axisLabel: {fontFamily: font, fontSize: 48, color: '#000', margin: 29, verticalAlign: 'top', lineHeight: 7, customValues: yTicks}},
    {type: 'value', gridIndex: 1, min: -0.335, max: 0.338, position: 'right', z: 10,
     splitLine: {show: false}, axisLine: {show: false}, axisTick: {show: false},
     axisLabel: {fontFamily: font, fontSize: 48, color: '#000', margin: 31, verticalAlign: 'top', lineHeight: 8, customValues: legendTicks,
       formatter: v => v.toFixed(1)}},
    {type: 'value', gridIndex: 1, min: -0.335, max: 0.338, position: 'left', z: 10,
     splitLine: {show: false}, axisLine: {show: false}, axisLabel: {show: false},
     axisTick: {inside: true, length: 13, lineStyle: legendTickStyle, customValues: legendTicks}},
    {type: 'value', gridIndex: 1, min: -0.335, max: 0.338, position: 'left', offset: -63, z: 10,
     splitLine: {show: false}, axisLine: {show: false}, axisLabel: {show: false},
     axisTick: {inside: false, length: 13, lineStyle: legendTickStyle, customValues: legendTicks}}
  ],
  visualMap: {
    type: 'continuous', show: false, min: -0.335, max: 0.338, seriesIndex: 0, dimension: 2,
    inRange: {color: scoreColors}
  },
  graphic: [
    {type: 'rect', left: 941, top: 456, z: 1, shape: {width: 63, height: 320},
     style: {fill: new echarts.graphic.LinearGradient(0, 1, 0, 0, barStops)}},
    {type: 'text', left: 943, top: 375, z: 5,
     style: {text: 'S.Score', fontFamily: font, fontSize: 58, fill: '#000'}}
  ],
  series: [{type: 'scatter', xAxisIndex: 0, yAxisIndex: 0, data: cells, symbolSize: 9,
    itemStyle: {opacity: 1}, large: false, silent: true}]
});
</script></body></html>
